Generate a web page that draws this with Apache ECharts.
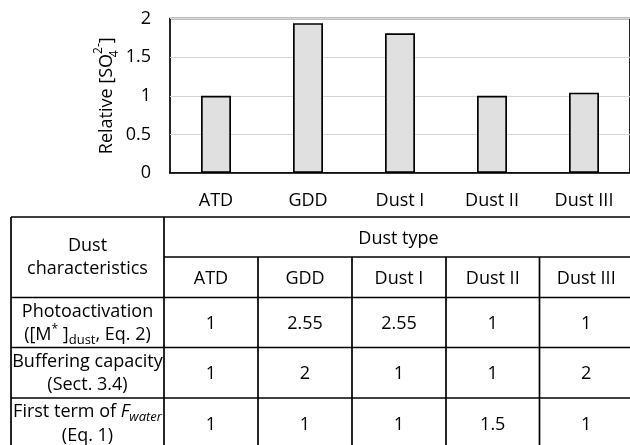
<!DOCTYPE html>
<html><head><meta charset="utf-8">
<script src="https://cdn.jsdelivr.net/npm/echarts@6/dist/echarts.min.js"></script>
<style>html,body{margin:0;padding:0;background:#fff}#c{width:630px;height:445px}</style>
</head><body><div id="c"></div>
<script>
// ---- data ----
const categories = ['ATD', 'GDD', 'Dust I', 'Dust II', 'Dust III'];
const relativeSO4 = [1.0, 1.94, 1.81, 1.0, 1.04];
const yMin = 0, yMax = 2, yStep = 0.5;

const tableCornerLabel = 'Dust\ncharacteristics';
const tableGroupLabel = 'Dust type';
const tableColumns = ['ATD', 'GDD', 'Dust I', 'Dust II', 'Dust III'];
const rowLabels = [
  'Photoactivation\n([M{sup|*} ]{sub|dust}, Eq. 2)',
  'Buffering capacity\n(Sect. 3.4)',
  'First term of {it|F}{itsub|water}\n(Eq. 1)'
];
const photoactivation = [1, 2.55, 2.55, 1, 1];
const bufferingCapacity = [1, 2, 1, 1, 2];
const firstTermFwater = [1, 1, 1, 1.5, 1];
const tableRows = [photoactivation, bufferingCapacity, firstTermFwater];

// ---- layout / style ----
const FONT = '"Open Sans", "Noto Sans", sans-serif';
const FS = 18;
const colX = [11, 164, 258, 352, 446, 539.5, 633];
const rowY = [217, 257, 297.5, 347.5, 398, 448];
const LW = 1.7;

const richTable = {
  sup: { fontFamily: FONT, fontSize: 12, lineHeight: 14, verticalAlign: 'top', fill: '#000' },
  sub: { fontFamily: FONT, fontSize: 13, lineHeight: 16, verticalAlign: 'bottom', fill: '#000' },
  it: { fontFamily: FONT, fontSize: FS, fontStyle: 'italic', lineHeight: 23.5, fill: '#000' },
  itsub: { fontFamily: FONT, fontSize: 13, fontStyle: 'italic', lineHeight: 16, verticalAlign: 'bottom', fill: '#000' }
};

function txt(text, x, y) {
  return {
    type: 'text', silent: true,
    style: {
      text: text, x: x, y: y, align: 'center', verticalAlign: 'middle',
      fontFamily: FONT, fontSize: FS, lineHeight: 23.5, fill: '#000', rich: richTable
    }
  };
}
function line(x1, y1, x2, y2) {
  return { type: 'line', silent: true, shape: { x1, y1, x2, y2 }, style: { stroke: '#000', lineWidth: LW } };
}

const graphics = [];
// horizontal lines
graphics.push(line(colX[0], rowY[0], colX[6], rowY[0]));
graphics.push(line(colX[1], rowY[1], colX[6], rowY[1]));
for (let r = 2; r < rowY.length; r++) graphics.push(line(colX[0], rowY[r], colX[6], rowY[r]));
// vertical lines
graphics.push(line(colX[0], rowY[0], colX[0], rowY[5]));
graphics.push(line(colX[1], rowY[0], colX[1], rowY[5]));
for (let c = 2; c < colX.length - 1; c++) graphics.push(line(colX[c], rowY[1], colX[c], rowY[5]));
// header texts
graphics.push(txt(tableCornerLabel, (colX[0] + colX[1]) / 2, (rowY[0] + rowY[2]) / 2));
graphics.push(txt(tableGroupLabel, (colX[1] + colX[6]) / 2, (rowY[0] + rowY[1]) / 2 + 1.5));
tableColumns.forEach((name, i) => {
  graphics.push(txt(name, (colX[i + 1] + colX[i + 2]) / 2, (rowY[1] + rowY[2]) / 2 + 1.5));
});
// body
tableRows.forEach((vals, r) => {
  const cy = (rowY[r + 2] + rowY[r + 3]) / 2;
  graphics.push(txt(rowLabels[r], (colX[0] + colX[1]) / 2, cy + 0.8));
  vals.forEach((v, i) => {
    graphics.push(txt(String(v), (colX[i + 1] + colX[i + 2]) / 2, cy + 1.5));
  });
});

const chart = echarts.init(document.getElementById('c'), null, { renderer: 'canvas' });
chart.setOption({
  animation: false,
  backgroundColor: '#fff',
  textStyle: { fontFamily: FONT },
  grid: {
    left: 170, top: 18.5, width: 460, height: 154.5,
    show: true, borderColor: '#000', borderWidth: 1.7, backgroundColor: 'transparent',
    containLabel: false, outerBoundsMode: 'none'
  },
  xAxis: {
    type: 'category', data: categories,
    axisLine: { show: true, lineStyle: { color: '#000', width: 1.7 } },
    axisTick: { show: false },
    axisLabel: { color: '#000', fontFamily: FONT, fontSize: FS, margin: 18.5 },
    splitLine: { show: false }
  },
  yAxis: {
    type: 'value', min: yMin, max: yMax, interval: yStep,
    axisLine: { show: false }, axisTick: { show: false },
    axisLabel: { color: '#000', fontFamily: FONT, fontSize: FS, margin: 19 },
    splitLine: { show: true, lineStyle: { color: '#d4d4d4', width: 1.2 } },
    name: 'Relative [SO{sub|4}{sup|2-}]',
    nameLocation: 'middle', nameRotate: 90, nameGap: 49.5, nameMoveOverlap: false,
    nameTextStyle: {
      color: '#000', fontFamily: FONT, fontSize: FS, lineHeight: 28,
      rich: {
        sub: { fontFamily: FONT, fontSize: 12, lineHeight: 14, verticalAlign: 'bottom', width: 0.01, color: '#000' },
        sup: { fontFamily: FONT, fontSize: 12, lineHeight: 18, verticalAlign: 'top', color: '#000' }
      }
    }
  },
  series: [{
    type: 'bar', data: relativeSO4, barWidth: 30,
    itemStyle: { color: '#e0e0e0', borderColor: '#000', borderWidth: 1.7 }
  }],
  graphic: { elements: graphics }
});
</script>
</body></html>
